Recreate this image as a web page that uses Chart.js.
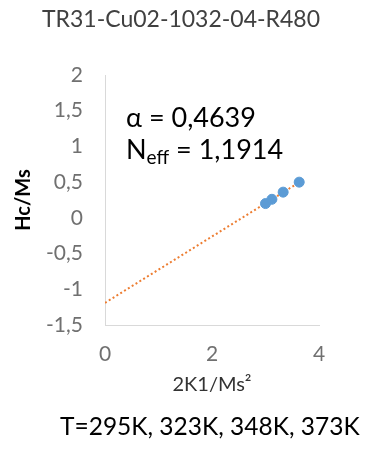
<!DOCTYPE html>
<html>
<head>
<meta charset="utf-8">
<script src="https://cdn.jsdelivr.net/npm/chart.js@4"></script>
<style>
  html, body { margin: 0; padding: 0; background: #fff; }
  #wrap { width: 376px; height: 450px; }
</style>
</head>
<body>
<div id="wrap"><canvas id="chart" width="376" height="450"></canvas></div>
<script>
// measured points (2K1/Ms², Hc/Ms)
const xValues = [3.0, 3.12, 3.33, 3.63];
const yValues = [0.20, 0.26, 0.36, 0.50];

// linear trendline end points
const trendX = [0, 3.66];
const trendY = [-1.19, 0.51];

const xTicks = [0, 2, 4];
const yTicks = [-1.5, -1, -0.5, 0, 0.5, 1, 1.5, 2];

const chartTitle = "TR31-Cu02-1032-04-R480";
const footText = "T=295K, 323K, 348K, 373K";
const alphaText = "α = 0,4639";
const neffText = "1,1914";

const font = "Lato";

function comma(v) {
  return String(Math.round(v * 10) / 10).replace(".", ",");
}

// title above, temperatures below, fit parameters inside the plot
const textLayer = {
  id: "textLayer",
  afterDraw(chart) {
    const { ctx, chartArea, height } = chart;
    ctx.save();
    ctx.textBaseline = "middle";

    ctx.fillStyle = "#404040";
    ctx.textAlign = "center";
    ctx.font = `23px ${font}`;
    ctx.fillText(chartTitle, 181, 20);

    ctx.fillStyle = "#000";
    ctx.textAlign = "left";
    ctx.font = `24.5px ${font}`;
    ctx.fillText(footText, 60, height - 23);

    const x = chartArea.left + 21;
    ctx.font = `27px ${font}`;
    ctx.fillText(alphaText, x, chartArea.top + 43);
    const y2 = chartArea.top + 75;
    ctx.fillText("N", x, y2);
    let cx = x + ctx.measureText("N").width;
    ctx.font = `19px ${font}`;
    ctx.fillText("eff", cx, y2 + 8);
    cx += ctx.measureText("eff").width;
    ctx.font = `27px ${font}`;
    ctx.fillText(" = " + neffText, cx, y2);
    ctx.restore();
  },
};

new Chart(document.getElementById("chart"), {
  type: "scatter",
  data: {
    datasets: [
      {
        data: xValues.map((x, i) => ({ x, y: yValues[i] })),
        backgroundColor: "#5b9bd5",
        borderColor: "#5b9bd5",
        pointRadius: 5,
        order: 0,
      },
      {
        data: trendX.map((x, i) => ({ x, y: trendY[i] })),
        showLine: true,
        pointRadius: 0,
        borderColor: "#ed7d31",
        borderWidth: 2,
        borderDash: [2, 2.5],
        order: 1,
      },
    ],
  },
  options: {
    responsive: false,
    animation: false,
    layout: { padding: { left: 0, right: 57, top: 75, bottom: 45 } },
    plugins: {
      legend: { display: false },
      tooltip: { enabled: false },
    },
    scales: {
      x: {
        type: "linear",
        min: 0,
        max: 4,
        afterBuildTicks: (s) => { s.ticks = xTicks.map((v) => ({ value: v })); },
        afterFit: (s) => { s.height = 80; },
        grid: { display: false, drawTicks: false },
        border: { display: true, color: "#d9d9d9", width: 1 },
        ticks: { color: "#707070", padding: 17, font: { family: font, size: 21 } },
        title: {
          display: true,
          text: "2K1/Ms²",
          color: "#333",
          font: { family: font, size: 20 },
          padding: { top: 0, bottom: 8 },
        },
      },
      y: {
        min: -1.5,
        max: 2,
        afterBuildTicks: (s) => { s.ticks = yTicks.map((v) => ({ value: v })); },
        afterFit: (s) => { s.width = 105; },
        grid: { display: false, drawTicks: false },
        border: { display: true, color: "#d9d9d9", width: 1 },
        ticks: {
          color: "#707070",
          padding: 22,
          font: { family: font, size: 21 },
          callback: (v) => comma(v),
        },
        title: {
          display: true,
          text: "Hc/Ms",
          color: "#000",
          font: { family: font, size: 20, weight: "bold" },
          padding: { top: 12, bottom: 0 },
        },
      },
    },
  },
  plugins: [textLayer],
});
</script>
</body>
</html>
